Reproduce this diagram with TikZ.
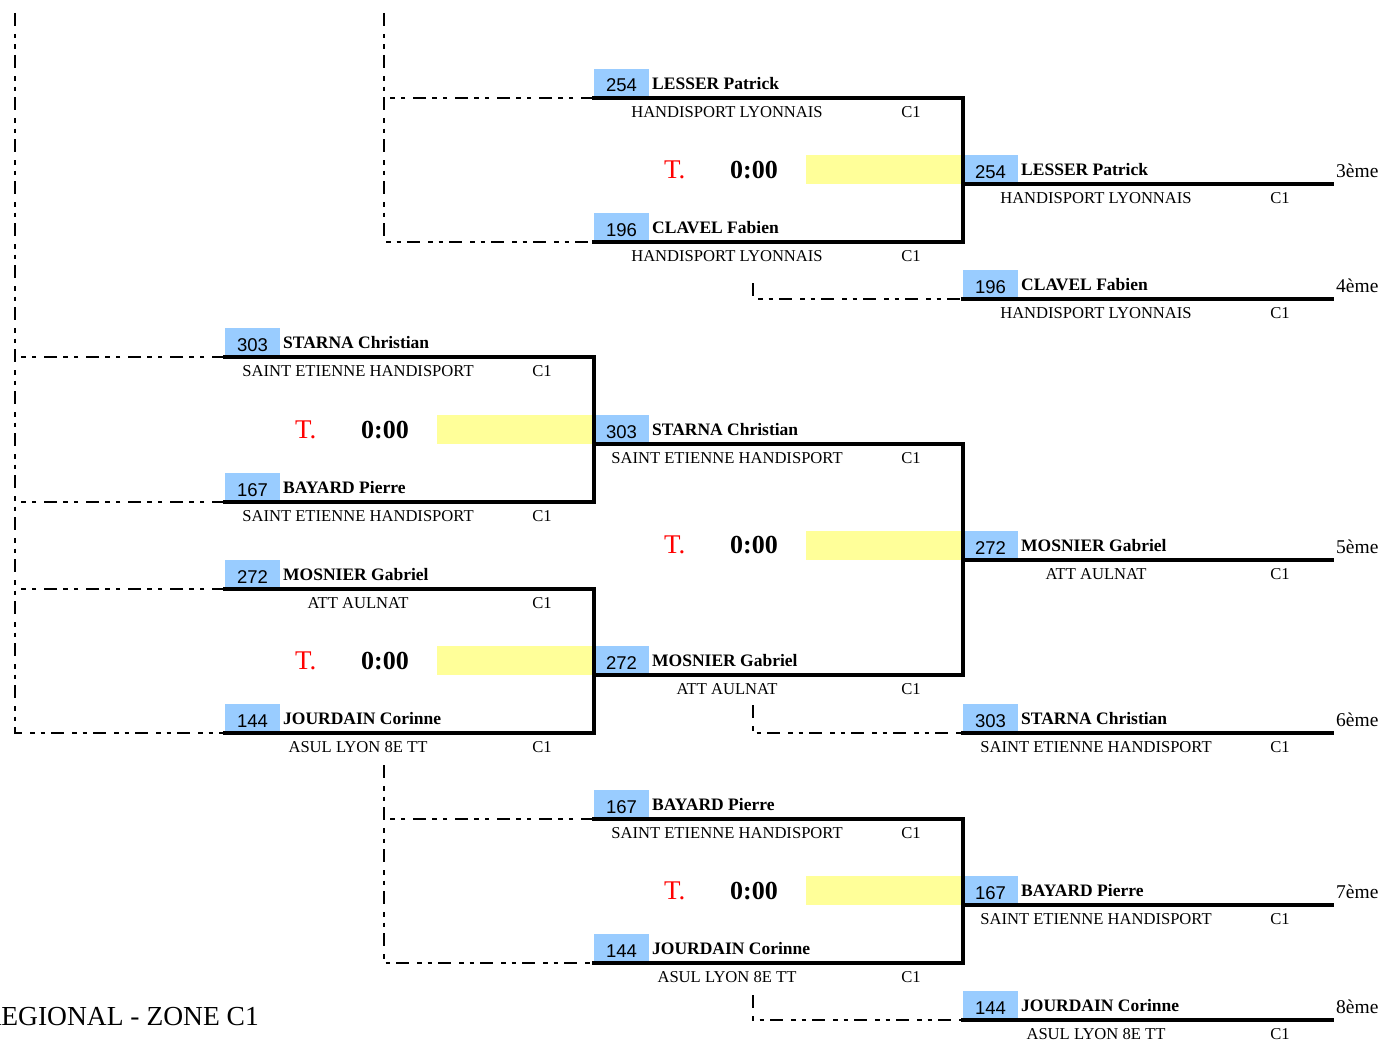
\documentclass[tikz,border=0pt]{standalone}
\usepackage{fontspec}
\setmainfont{Liberation Serif}
\newfontfamily\numfont{Liberation Sans}
\definecolor{numblue}{HTML}{99CCFF}
\definecolor{scoreyel}{HTML}{FFFF99}
\tikzset{
  thickln/.style={line width=3.5pt, line cap=rect},
  dashln/.style={line width=2pt, dash pattern=on 13pt off 8pt on 4.5pt off 6pt on 4.5pt off 6pt},
  numtxt/.style={font=\numfont\fontsize{18.5}{20}\selectfont, inner sep=0pt},
  nametxt/.style={font=\bfseries\fontsize{17.5}{20}\selectfont, inner sep=0pt},
  clubtxt/.style={font=\fontsize{16.6}{18}\selectfont, inner sep=0pt},
  ttxt/.style={font=\fontsize{27}{30}\selectfont, text=red, inner sep=0pt},
  scoretxt/.style={font=\bfseries\fontsize{26}{30}\selectfont, inner sep=0pt},
  ranktxt/.style={font=\fontsize{19.5}{22}\selectfont, inner sep=0pt},
  titletxt/.style={font=\fontsize{27.5}{30}\selectfont, inner sep=0pt},
}
\newcommand{\player}[6]{%
  \fill[numblue] (#2,#3-29) rectangle (#2+55,#3);
  \node[numtxt, anchor=base] (#1n) at (#2+27.5,#3-6) {#4};
  \node[nametxt, anchor=base west] (#1p) at (#2+58,#3-9) {#5};
  \node[clubtxt, anchor=base] (#1c) at (#2+133,#3+19) {#6};
  \node[clubtxt, anchor=base] (#1k) at (#2+317,#3+19) {C1};
  \coordinate (#1a) at (#2,#3);
  \coordinate (#1b) at (#2+369,#3);
  \draw[thickln] (#1a) -- (#1b);
}
\newcommand{\score}[4]{%
  \fill[scoreyel] (#2+212,#3-29) rectangle (#2+369,#3);
  \node[ttxt, anchor=base west] (#1t) at (#2+70,#3-#4) {T.};
  \node[scoretxt, anchor=base west] (#1s) at (#2+136,#3-#4) {0:00};
}
\begin{document}
\begin{tikzpicture}[x=1pt,y=-1pt]
\useasboundingbox (0,0) rectangle (1386,1041);
\clip (0,0) rectangle (1386,1041);
% score boxes
\score{m1}{225}{444}{6}
\score{m2}{225}{675}{6}
\score{m3}{594}{184}{6}
\score{m4}{594}{560}{7}
\score{m5}{594}{905}{6}
% column A
\player{a1}{225}{357}{303}{STARNA Christian}{SAINT ETIENNE HANDISPORT}
\player{a2}{225}{502}{167}{BAYARD Pierre}{SAINT ETIENNE HANDISPORT}
\player{a3}{225}{589}{272}{MOSNIER Gabriel}{ATT AULNAT}
\player{a4}{225}{733}{144}{JOURDAIN Corinne}{ASUL LYON 8E TT}
% column B
\player{b1}{594}{98}{254}{LESSER Patrick}{HANDISPORT LYONNAIS}
\player{b2}{594}{242}{196}{CLAVEL Fabien}{HANDISPORT LYONNAIS}
\player{b3}{594}{444}{303}{STARNA Christian}{SAINT ETIENNE HANDISPORT}
\player{b4}{594}{675}{272}{MOSNIER Gabriel}{ATT AULNAT}
\player{b5}{594}{819}{167}{BAYARD Pierre}{SAINT ETIENNE HANDISPORT}
\player{b6}{594}{963}{144}{JOURDAIN Corinne}{ASUL LYON 8E TT}
% column C
\player{c1}{963}{184}{254}{LESSER Patrick}{HANDISPORT LYONNAIS}
\player{c2}{963}{299}{196}{CLAVEL Fabien}{HANDISPORT LYONNAIS}
\player{c3}{963}{560}{272}{MOSNIER Gabriel}{ATT AULNAT}
\player{c4}{963}{733}{303}{STARNA Christian}{SAINT ETIENNE HANDISPORT}
\player{c5}{963}{905}{167}{BAYARD Pierre}{SAINT ETIENNE HANDISPORT}
\player{c6}{963}{1020}{144}{JOURDAIN Corinne}{ASUL LYON 8E TT}
% match verticals
\draw[thickln] (a1b) -- (a2b);
\draw[thickln] (a3b) -- (a4b);
\draw[thickln] (b1b) -- (b2b);
\draw[thickln] (b3b) -- (b4b);
\draw[thickln] (b5b) -- (b6b);
% dashed feeders
\coordinate (L0) at (15,13);
\coordinate (L1) at (384,13);
\coordinate (L2) at (384,765);
\coordinate (D1) at (753,283);
\coordinate (D2) at (753,705);
\coordinate (D3) at (753,995);
\draw[dashln] (L0) |- (a4a);
\draw[dashln] (a1a) -- (a1a -| L0);
\draw[dashln] (a2a) -- (a2a -| L0);
\draw[dashln] (a3a) -- (a3a -| L0);
\draw[dashln] (L1) |- (b2a);
\draw[dashln] (b1a) -- (b1a -| L1);
\draw[dashln] (L2) |- (b6a);
\draw[dashln] (b5a) -- (b5a -| L2);
\draw[dashln] (D1) |- (c2a);
\draw[dashln] (D2) |- (c4a);
\draw[dashln] (D3) |- (c6a);
% ranks
\node[ranktxt, anchor=base west] (r3) at (1336,177) {3ème};
\node[ranktxt, anchor=base west] (r4) at (1336,292) {4ème};
\node[ranktxt, anchor=base west] (r5) at (1336,553) {5ème};
\node[ranktxt, anchor=base west] (r6) at (1336,726) {6ème};
\node[ranktxt, anchor=base west] (r7) at (1336,898) {7ème};
\node[ranktxt, anchor=base west] (r8) at (1336,1013) {8ème};
% title (cut at the left edge, as in the reference)
\node[titletxt, anchor=base east] (title) at (259,1025) {REGIONAL - ZONE C1};
\end{tikzpicture}
\end{document}
